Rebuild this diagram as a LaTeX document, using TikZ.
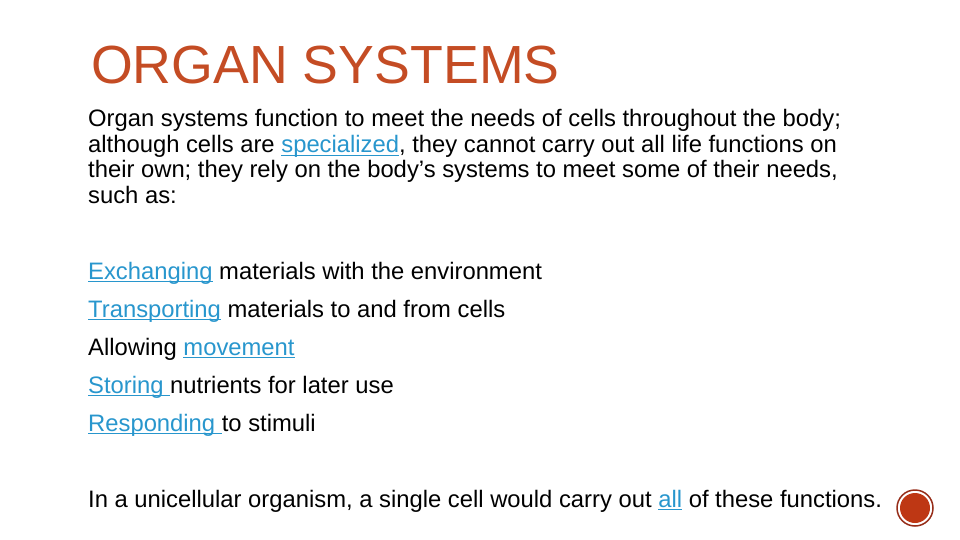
\documentclass[tikz,border=0pt]{standalone}
\usepackage{fontspec}
\setmainfont{Liberation Sans}
\definecolor{titlecol}{RGB}{196,76,36}
\definecolor{linkcol}{RGB}{40,150,205}
\definecolor{dotfill}{RGB}{190,55,20}
\definecolor{dotring}{RGB}{150,45,25}
\newcommand{\lnk}[1]{\textcolor{linkcol}{\setbox0\hbox{#1}\rlap{\rule[-2.8pt]{\wd0}{0.9pt}}\box0}}
\begin{document}
\begin{tikzpicture}[x=1pt,y=1pt,
  body/.style={anchor=base west,inner sep=0pt,font=\fontsize{23.8}{26}\selectfont}]
\useasboundingbox (0,0) rectangle (960,-540);
\node[anchor=base west,inner sep=0pt,text=titlecol,font=\fontsize{53.7}{60}\selectfont] (title) at (91,-84) {ORGAN SYSTEMS};
\node[body] (l1) at (88,-127) {Organ systems function to meet the needs of cells throughout the body;};
\node[body] (l2) at (88,-153) {although cells are \lnk{specialized}, they cannot carry out all life functions on};
\node[body] (l3) at (88,-178) {their own; they rely on the body’s systems to meet some of their needs,};
\node[body] (l4) at (88,-204) {such as:};
\node[body] (b1) at (88,-279) {\lnk{Exchanging} materials with the environment};
\node[body] (b2) at (88,-317) {\lnk{Transporting} materials to and from cells};
\node[body] (b3) at (88,-355) {Allowing \lnk{movement}};
\node[body] (b4) at (88,-393) {\lnk{Storing }nutrients for later use};
\node[body] (b5) at (88,-431) {\lnk{Responding }to stimuli};
\node[body] (last) at (88,-507) {In a unicellular organism, a single cell would carry out \lnk{all} of these functions.};
\node[circle,draw=dotring,line width=1.5pt,minimum size=36pt,inner sep=0pt] (ring) at (915,-508) {};
\fill[dotfill] (ring.center) circle (15);
\end{tikzpicture}
\end{document}
